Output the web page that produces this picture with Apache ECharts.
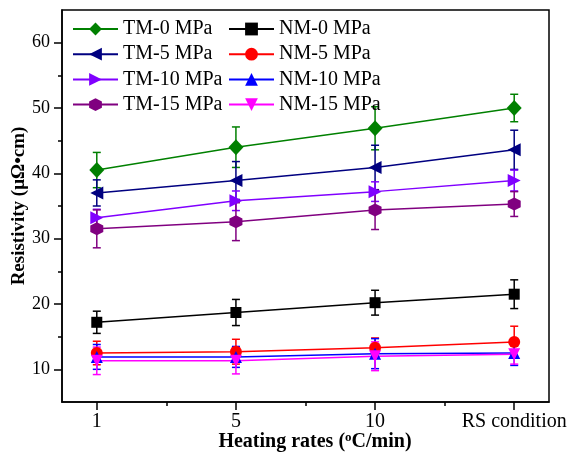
<!DOCTYPE html>
<html><head><meta charset="utf-8">
<script src="https://cdn.jsdelivr.net/npm/echarts@6/dist/echarts.min.js"></script>
<style>html,body{margin:0;padding:0;background:#fff}#c{width:576px;height:454px}</style>
</head><body><div id="c"></div>
<script>
// categories (x positions 0..3)
var categories = ['1', '5', '10', 'RS condition'];
var yTicks = [10, 20, 30, 40, 50, 60];
var yMinorTicks = [15, 25, 35, 45, 55];

var names = ['TM-0 MPa','TM-5 MPa','TM-10 MPa','TM-15 MPa','NM-0 MPa','NM-5 MPa','NM-10 MPa','NM-15 MPa'];
var tm0 = [40.5, 44.0, 46.9, 50.0];
var tm0Err = [2.7, 3.1, 3.3, 2.1];
var tm5 = [37.0, 38.9, 40.9, 43.6];
var tm5Err = [2.0, 2.9, 3.4, 3.0];
var tm10 = [33.2, 35.8, 37.2, 38.9];
var tm10Err = [1.3, 1.5, 1.5, 1.6];
var tm15 = [31.5, 32.6, 34.4, 35.3];
var tm15Err = [2.9, 2.9, 3.0, 1.9];
var nm0 = [17.2, 18.7, 20.2, 21.5];
var nm0Err = [1.7, 2.0, 1.9, 2.2];
var nm5 = [12.5, 12.7, 13.3, 14.2];
var nm5Err = [1.8, 1.9, 1.5, 2.4];
var nm10 = [11.9, 11.9, 12.4, 12.5];
var nm10Err = [1.9, 1.6, 2.3, 1.9];
var nm15 = [11.3, 11.3, 12.0, 12.3];
var nm15Err = [2.1, 2.0, 2.2, 1.5];

var values = [tm0, tm5, tm10, tm15, nm0, nm5, nm10, nm15];
var errs = [tm0Err, tm5Err, tm10Err, tm15Err, nm0Err, nm5Err, nm10Err, nm15Err];
var colors = ['#008000','#000080','#8000ff','#800080','#000000','#ff0000','#0000ff','#ff00ff'];
var symbols = [
  'diamond',
  'path://M0,5 L10,0 L10,10 Z',
  'path://M10,5 L0,0 L0,10 Z',
  'path://M5,0 L9.33,2.5 L9.33,7.5 L5,10 L0.67,7.5 L0.67,2.5 Z',
  'rect',
  'circle',
  'triangle',
  'path://M0,0 L10,0 L5,10 Z'
];
var sizes = [[15,16],[13,13],[13,13],[13,13],[11,11],[12,12],[12,12],[12,12]];

var FONT = '"Liberation Serif", "Times New Roman", serif';
var series = [];
for (var i = 0; i < names.length; i++) {
  var errData = values[i].map(function (v, k) { return [k, v - errs[i][k], v + errs[i][k]]; });
  series.push({
    type: 'custom', name: 'err' + i, xAxisIndex: 0, yAxisIndex: 0, z: 1,
    data: errData,
    renderItem: (function (col) {
      return function (params, api) {
        var lo = api.coord([api.value(0), api.value(1)]);
        var hi = api.coord([api.value(0), api.value(2)]);
        var w = 4;
        var st = { stroke: col, lineWidth: 1.5 };
        return { type: 'group', children: [
          { type: 'line', shape: { x1: lo[0], y1: lo[1], x2: hi[0], y2: hi[1] }, style: st },
          { type: 'line', shape: { x1: lo[0]-w, y1: lo[1], x2: lo[0]+w, y2: lo[1] }, style: st },
          { type: 'line', shape: { x1: hi[0]-w, y1: hi[1], x2: hi[0]+w, y2: hi[1] }, style: st }
        ]};
      };
    })(colors[i]),
    silent: true
  });
}
for (var j = 0; j < names.length; j++) {
  series.push({
    type: 'line', name: names[j], xAxisIndex: 0, yAxisIndex: 0, z: 2,
    data: values[j].map(function (v, k) { return [k, v]; }),
    symbol: symbols[j], symbolSize: sizes[j],
    itemStyle: { color: colors[j], opacity: 1 },
    lineStyle: { color: colors[j], width: 1.5 },
    animation: false
  });
}

var legendCommon = {
  orient: 'vertical', itemWidth: 45, itemHeight: 16, itemGap: 5.2, padding: 0,
  textStyle: { fontFamily: FONT, fontSize: 20, color: '#000', lineHeight: 20 },
  selectedMode: false
};

var chart = echarts.init(document.getElementById('c'), null, { renderer: 'canvas' });
chart.setOption({
  animation: false,
  backgroundColor: '#fff',
  color: colors,
  grid: { left: 62, top: 10, right: 27, bottom: 52, show: true, borderColor: '#000', borderWidth: 1.5, containLabel: false },
  legend: [
    Object.assign({}, legendCommon, { left: 72, top: 19, data: names.slice(0, 4) }),
    Object.assign({}, legendCommon, { left: 228, top: 19, data: names.slice(4) })
  ],
  xAxis: [
    { type: 'value', min: -0.25, max: 3.25, position: 'bottom',
      axisLine: { show: true, onZero: false, lineStyle: { color: '#000', width: 1.5 } },
      axisTick: { show: true, length: 8, inside: false, customValues: [0, 1, 2, 3], lineStyle: { color: '#000', width: 1.5 } },
      axisLabel: { customValues: [0, 1, 2, 3], formatter: function (v) { return categories[Math.round(v)]; }, margin: 10,
        fontFamily: FONT, fontSize: 20, color: '#000' },
      splitLine: { show: false } },
    { type: 'value', min: -0.25, max: 3.25, position: 'bottom',
      axisLine: { show: false, onZero: false },
      axisTick: { show: true, length: 4, inside: false, customValues: [0.5, 1.5, 2.5], lineStyle: { color: '#000', width: 1.5 } },
      axisLabel: { show: false }, splitLine: { show: false } }
  ],
  yAxis: [
    { type: 'value', min: 5, max: 65, position: 'left',
      axisLine: { show: true, onZero: false, lineStyle: { color: '#000', width: 1.5 } },
      axisTick: { show: true, length: 8, inside: false, customValues: yTicks, lineStyle: { color: '#000', width: 1.5 } },
      axisLabel: { customValues: yTicks, margin: 12, fontFamily: FONT, fontSize: 18, color: '#000' },
      splitLine: { show: false } },
    { type: 'value', min: 5, max: 65, position: 'left',
      axisLine: { show: false, onZero: false },
      axisTick: { show: true, length: 4, inside: false, customValues: yMinorTicks, lineStyle: { color: '#000', width: 1.5 } },
      axisLabel: { show: false }, splitLine: { show: false } }
  ],
  graphic: [
    { type: 'text', x: 19, y: 206, rotation: Math.PI / 2,
      style: { text: 'Resistivity (μΩ•cm)', font: 'bold 19px ' + FONT, fill: '#000', align: 'center', verticalAlign: 'middle' } },
    { type: 'text', x: 315, y: 442,
      style: { text: '{a|Heating rates (}{s|o}{a|C/min)}', align: 'center', verticalAlign: 'middle', fill: '#000',
        rich: { a: { fontFamily: FONT, fontWeight: 'bold', fontSize: 20, fill: '#000' },
                s: { fontFamily: FONT, fontWeight: 'bold', fontSize: 13, fill: '#000', padding: [0, 0, 9, 0] } } } }
  ],
  series: series
});
</script>
</body></html>
